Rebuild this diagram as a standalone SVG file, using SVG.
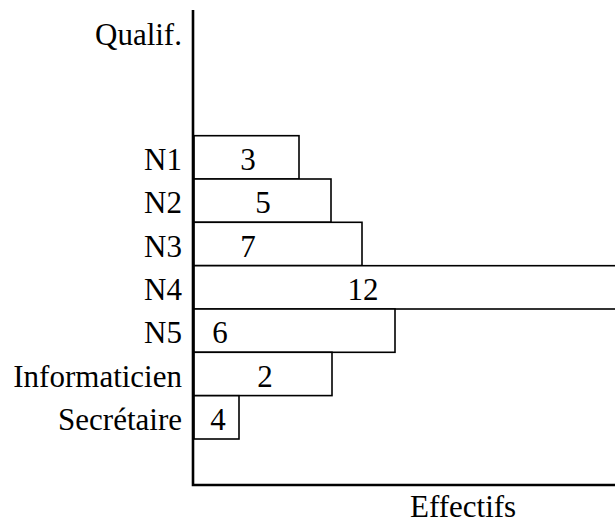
<svg xmlns="http://www.w3.org/2000/svg" width="615" height="523" viewBox="0 0 615 523">
<style>
text{font-family:'Liberation Serif','Times New Roman',serif;font-size:31px;fill:#000}
.lbl{text-anchor:end}
.num{text-anchor:middle}
.bar{fill:#fff;stroke:#000;stroke-width:1.6}
.axis{fill:none;stroke:#000;stroke-width:2.6}
</style>
<rect width="615" height="523" fill="#fff"/>
<g id="bars">
<g id="n1"><rect class="bar" x="194" y="135.7" width="105" height="43.3"/><text class="lbl" x="182" y="170">N1</text><text class="num" x="248" y="170">3</text></g>
<g id="n2"><rect class="bar" x="194" y="179" width="137" height="43.3"/><text class="lbl" x="182" y="213.3">N2</text><text class="num" x="263" y="213.3">5</text></g>
<g id="n3"><rect class="bar" x="194" y="222.3" width="168" height="43.3"/><text class="lbl" x="182" y="256.7">N3</text><text class="num" x="248" y="256.7">7</text></g>
<g id="n4"><rect class="bar" x="194" y="265.7" width="440" height="43.3"/><text class="lbl" x="182" y="300">N4</text><text class="num" x="363" y="300">12</text></g>
<g id="n5"><rect class="bar" x="194" y="309" width="201" height="43.3"/><text class="lbl" x="182" y="343.3">N5</text><text class="num" x="220" y="343.3">6</text></g>
<g id="info"><rect class="bar" x="194" y="352.3" width="138" height="43.3"/><text class="lbl" x="182" y="386.7">Informaticien</text><text class="num" x="265" y="386.7">2</text></g>
<g id="sec"><rect class="bar" x="194" y="395.7" width="45" height="43.3"/><text class="lbl" x="182" y="430">Secrétaire</text><text class="num" x="218" y="430">4</text></g>
</g>
<g id="axes">
<polyline class="axis" points="193,10 193,485 615,485"/>
<text x="95" y="45">Qualif.</text>
<text x="410" y="516.5">Effectifs</text>
</g>
</svg>
